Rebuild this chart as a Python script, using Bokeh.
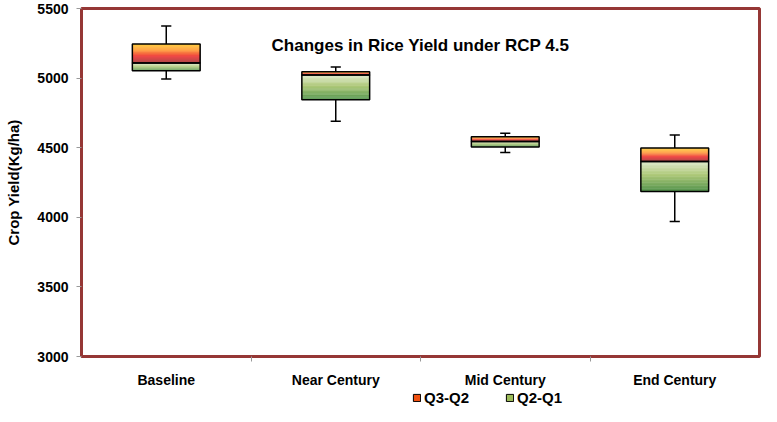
import numpy as np
from bokeh.plotting import figure
from bokeh.layouts import column
from bokeh.models import (ColumnDataSource, Range1d, FixedTicker, Label, Legend, LegendItem)
from bokeh.embed import file_html
from bokeh.resources import INLINE

categories = ["Baseline", "Near Century", "Mid Century", "End Century"]
whisker_low = [4994, 4690, 4466, 3970]
q1 = [5052, 4845, 4505, 4185]
median = [5108, 5022, 4545, 4400]
q3 = [5245, 5045, 4579, 4497]
whisker_high = [5375, 5079, 4603, 4591]
y_ticks = [3000, 3500, 4000, 4500, 5000, 5500]
legend_labels = ["Q3-Q2", "Q2-Q1"]

FONT = "Liberation Sans"
xs = [i + 0.5 for i in range(len(categories))]
half_w = 0.2
cap_w = 0.03

p = figure(width=761, height=390, output_backend="svg", toolbar_location=None,
           x_range=Range1d(0, 4), y_range=Range1d(3000, 5500),
           min_border_left=81, min_border_right=2, min_border_top=8, min_border_bottom=30)
p.background_fill_color = "white"
p.border_fill_color = "white"
p.grid.visible = False
p.outline_line_color = "#953735"
p.outline_line_width = 3

# x axis
p.xaxis.ticker = FixedTicker(ticks=xs, minor_ticks=[1, 2, 3])
p.xaxis.major_label_overrides = {x: c for x, c in zip(xs, categories)}
p.xaxis.major_tick_out = 0
p.xaxis.major_tick_in = 0
p.xaxis.minor_tick_out = 5
p.xaxis.minor_tick_in = 0
p.xaxis.minor_tick_line_color = "#999999"
p.xaxis.axis_line_color = None
p.xaxis.major_label_text_font = FONT
p.xaxis.major_label_text_font_style = "bold"
p.xaxis.major_label_text_font_size = "14px"
p.xaxis.major_label_text_color = "black"
p.xaxis.major_label_standoff = 10

# y axis
p.yaxis.ticker = FixedTicker(ticks=y_ticks, minor_ticks=[])
p.yaxis.major_tick_out = 5
p.yaxis.major_tick_in = 0
p.yaxis.major_tick_line_color = "#999999"
p.yaxis.axis_line_color = None
p.yaxis.major_label_text_font = FONT
p.yaxis.major_label_text_font_style = "bold"
p.yaxis.major_label_text_font_size = "14px"
p.yaxis.major_label_text_color = "black"
p.yaxis.major_label_standoff = 8
p.yaxis.axis_label = "Crop Yield(Kg/ha)"
p.yaxis.axis_label_text_font = FONT
p.yaxis.axis_label_text_font_style = "bold"
p.yaxis.axis_label_text_font_size = "15px"
p.yaxis.axis_label_text_color = "black"
p.yaxis.axis_label_standoff = 12


def lerp_colors(stops, t):
    pos = np.array([s[0] for s in stops])
    cols = np.array([[int(s[1][i:i + 2], 16) for i in (1, 3, 5)] for s in stops], dtype=float)
    rgb = [np.interp(t, pos, cols[:, k]) for k in range(3)]
    return "#%02x%02x%02x" % tuple(int(round(c)) for c in rgb)

upper_stops = [(0.0, "#FFC000"), (0.35, "#FF7A00"), (0.65, "#E80000"), (1.0, "#8B0000")]
lower_stops = [(0.0, "#D8E6C2"), (0.45, "#9BBB59"), (1.0, "#2A7A22")]

N = 40
L, R, B, T, C = [], [], [], [], []
for x, a, m, b in zip(xs, q1, median, q3):
    for lo, hi, stops in ((m, b, upper_stops), (a, m, lower_stops)):
        for k in range(N):
            top = hi - (hi - lo) * k / N
            bot = hi - (hi - lo) * (k + 1) / N
            L.append(x - half_w); R.append(x + half_w)
            T.append(top); B.append(bot)
            C.append(lerp_colors(stops, (k + 0.5) / N))
p.quad(left=L, right=R, top=T, bottom=B, fill_color=C, line_color=None)

box_src = ColumnDataSource(dict(
    left=[x - half_w for x in xs], right=[x + half_w for x in xs],
    q1=q1, med=median, q3=q3, lo=whisker_low, hi=whisker_high, x=xs,
    cl=[x - cap_w for x in xs], cr=[x + cap_w for x in xs]))

p.segment(x0="x", y0="q3", x1="x", y1="hi", source=box_src, line_color="black", line_width=1.5)
p.segment(x0="x", y0="q1", x1="x", y1="lo", source=box_src, line_color="black", line_width=1.5)
p.segment(x0="cl", y0="hi", x1="cr", y1="hi", source=box_src, line_color="black", line_width=1.5)
p.segment(x0="cl", y0="lo", x1="cr", y1="lo", source=box_src, line_color="black", line_width=1.5)
p.quad(left="left", right="right", top="q3", bottom="med", source=box_src,
       fill_color=None, line_color="black", line_width=1.5)
p.quad(left="left", right="right", top="med", bottom="q1", source=box_src,
       fill_color=None, line_color="black", line_width=1.5)

title = Label(x=2.0, y=5235, text="Changes in Rice Yield under RCP 4.5",
              text_align="center", text_baseline="middle",
              text_font=FONT, text_font_style="bold", text_font_size="17px",
              text_color="black")
p.add_layout(title)

# legend strip below the chart
p2 = figure(width=761, height=16, output_backend="svg", toolbar_location=None,
            x_range=Range1d(0, 1), y_range=Range1d(0, 1),
            x_axis_location=None, y_axis_location=None,
            min_border_left=0, min_border_right=0, min_border_top=0, min_border_bottom=0)
p2.grid.visible = False
p2.outline_line_color = None
p2.background_fill_color = "white"
p2.border_fill_color = "white"
# legend key renderers (kept outside the visible range; only their swatches are shown)
r_up = p2.quad(left=[-3], right=[-2], top=[-2], bottom=[-3],
               fill_color="#F05010", line_color="black", line_width=1)
r_lo = p2.quad(left=[-3], right=[-2], top=[-2], bottom=[-3],
               fill_color="#9BBB59", line_color="black", line_width=1)
legend = Legend(items=[LegendItem(label=legend_labels[0], renderers=[r_up]),
                       LegendItem(label=legend_labels[1], renderers=[r_lo])],
                orientation="horizontal", location=(331, 0),
                label_text_font=FONT, label_text_font_style="bold",
                label_text_font_size="15px", label_text_color="black",
                glyph_width=9, glyph_height=9, spacing=36, padding=1,
                margin=0, border_line_color=None, background_fill_alpha=0,
                label_standoff=3, label_height=14)
p2.add_layout(legend, "center")

open("out.html", "w").write(file_html(column(p, p2, spacing=0), INLINE))
